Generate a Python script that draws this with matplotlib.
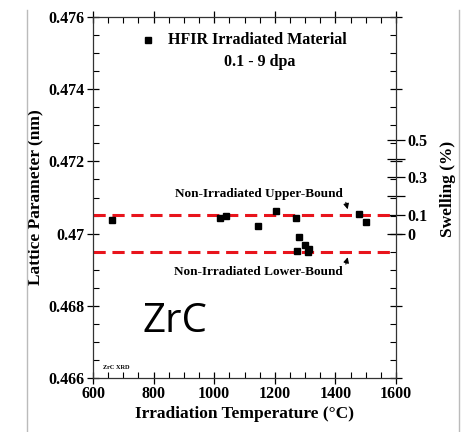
import matplotlib
matplotlib.use("Agg")
import matplotlib.pyplot as plt
from matplotlib.ticker import MultipleLocator, FixedLocator
from matplotlib.lines import Line2D

# Data
temperature = [662, 1019, 1039, 1143, 1203, 1270, 1280, 1274, 1301, 1312, 1310, 1479, 1500]
lattice = [0.47039, 0.47044, 0.47048, 0.47020, 0.47062, 0.47044, 0.46990,
           0.46951, 0.46969, 0.46958, 0.46948, 0.47055, 0.47032]
upper_bound = 0.47052
lower_bound = 0.46950
swell_ticks = [0, 0.1, 0.2, 0.3, 0.4, 0.5]
swell_labels = ["0", "0.1", "", "0.3", "", "0.5"]
swell_ref = 0.4700
swell_scale = 0.0052  # lattice change per 1 % swelling

serif = ["Liberation Serif", "DejaVu Serif"]
plt.rcParams["font.family"] = serif
plt.rcParams["font.weight"] = "bold"

fig = plt.figure(figsize=(4.76, 4.32), dpi=100)
ax = fig.add_axes([93/476, 1-378/432, (396-93)/476, (378-17)/432])

# frame lines of figure (gray borders)
fig.add_artist(Line2D([27/476, 27/476], [0, 1-10/432], color="#bbbbbb", lw=1))
fig.add_artist(Line2D([459/476, 459/476], [0, 1-10/432], color="#bbbbbb", lw=1))

ax.axhline(upper_bound, color="#e8141c", lw=2.2, ls=(0, (4, 2.2)), zorder=2)
ax.axhline(lower_bound, color="#e8141c", lw=2.2, ls=(0, (4, 2.2)), zorder=2)
ax.plot(temperature, lattice, "s", color="black", ms=5, zorder=3)

ax.set_xlim(600, 1600)
ax.set_ylim(0.466, 0.476)
ax.xaxis.set_major_locator(MultipleLocator(200))
ax.xaxis.set_minor_locator(MultipleLocator(50))
ax.yaxis.set_minor_locator(MultipleLocator(0.0005))
ax.set_yticks([0.466, 0.468, 0.47, 0.472, 0.474, 0.476])
ax.set_yticklabels(["0.466", "0.468", "0.47", "0.472", "0.474", "0.476"])
ax.tick_params(which="major", direction="inout", length=8, width=0.9,
               top=True, right=True, labelsize=11.5, pad=2)
ax.tick_params(which="minor", direction="in", length=4, width=0.8,
               top=True, right=True)
for s in ax.spines.values():
    s.set_linewidth(0.9)
    s.set_color("#333333")

ax.set_xlabel("Irradiation Temperature (°C)", fontsize=12.5, fontweight="bold", labelpad=3)
ax.set_ylabel("Lattice Parameter (nm)", fontsize=12.5, fontweight="bold", labelpad=4)

# secondary swelling axis
sec = ax.secondary_yaxis("right",
                         functions=(lambda y: (y - swell_ref) / swell_scale,
                                    lambda s: swell_ref + s * swell_scale))
sec.yaxis.set_major_locator(FixedLocator(swell_ticks))
sec.set_yticklabels(swell_labels)
sec.tick_params(direction="inout", length=13, width=0.9, labelsize=11.5, pad=2)
sec.yaxis.set_minor_locator(FixedLocator([]))
sec.spines["right"].set_visible(False)
fig.text(448/476, 1-189/432, "Swelling (%)", rotation=90, ha="center", va="center",
         fontsize=12.5, fontweight="bold")

# legend-like text
ax.plot([782], [0.47535], "s", color="black", ms=4.5)
ax.text(1141, 0.47537, "HFIR Irradiated Material", ha="center", va="center",
        fontsize=11.5, fontweight="bold")
ax.text(1150, 0.47475, "0.1 - 9 dpa", ha="center", va="center",
        fontsize=11.5, fontweight="bold")

# bound annotations
ax.annotate("", xy=(1443, upper_bound + 0.00008), xytext=(1432, upper_bound + 0.00042),
            arrowprops=dict(arrowstyle="-|>", color="black", lw=0.8, mutation_scale=8))
ax.text(1147, 0.47110, "Non-Irradiated Upper-Bound", ha="center", va="center",
        fontsize=9.5, fontweight="bold")
ax.annotate("", xy=(1443, lower_bound - 0.00008), xytext=(1432, lower_bound - 0.00042),
            arrowprops=dict(arrowstyle="-|>", color="black", lw=0.8, mutation_scale=8))
ax.text(1147, 0.46895, "Non-Irradiated Lower-Bound", ha="center", va="center",
        fontsize=9.5, fontweight="bold")

ax.text(632, 0.46630, "ZrC XRD", fontsize=4.5, fontweight="bold", va="center")
ax.text(872, 0.46755, "ZrC", fontsize=29, fontweight="normal", family=["Open Sans", "DejaVu Sans"],
        ha="center", va="center")

fig.savefig("out.png", dpi=100)
